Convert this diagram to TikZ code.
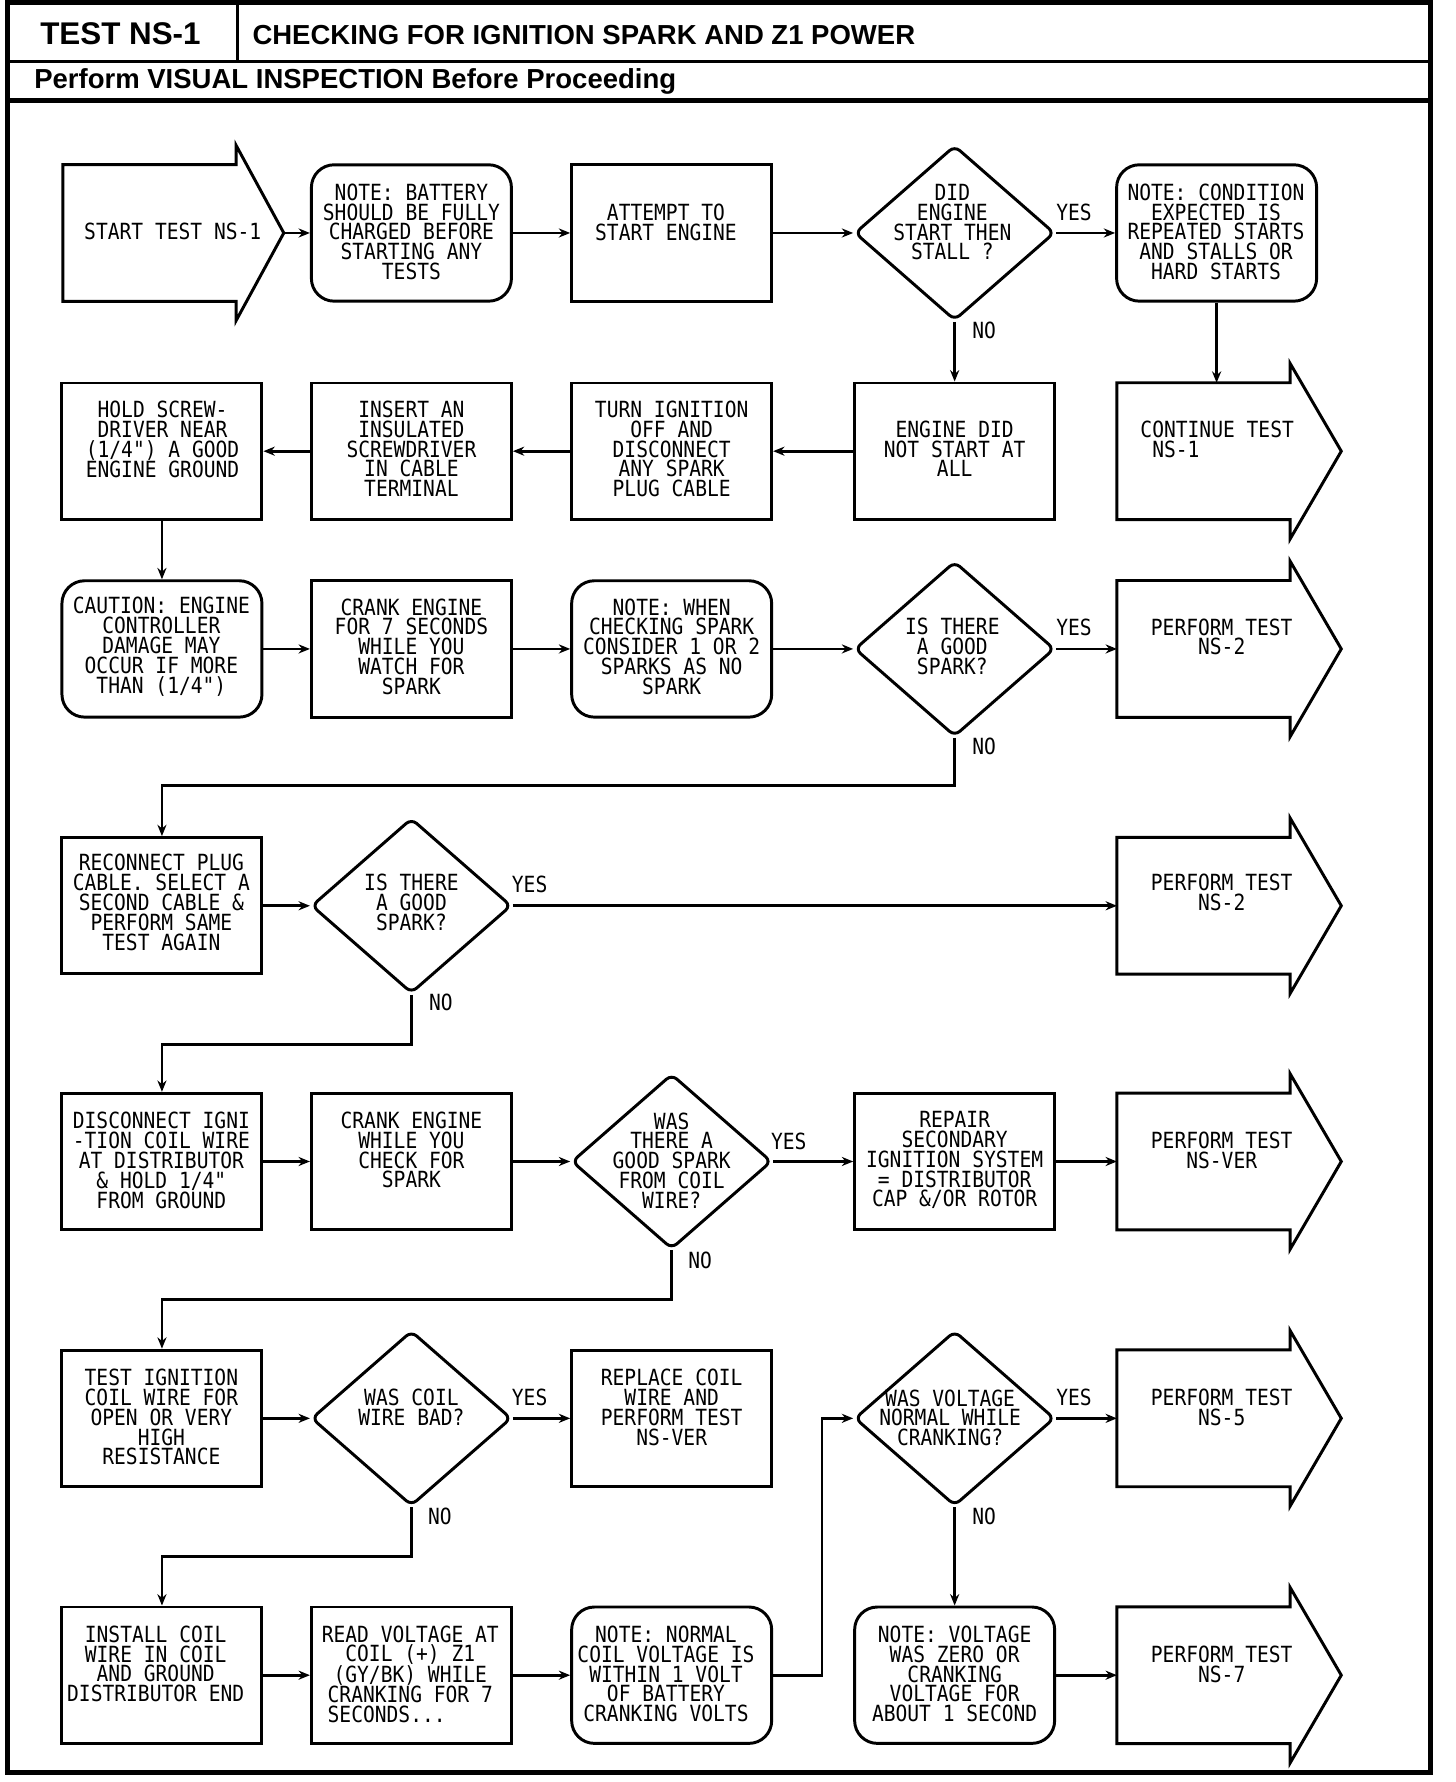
\documentclass[tikz,border=0pt]{standalone}
\usepackage{fontspec}
\usetikzlibrary{shapes.geometric,arrows.meta}
\newfontfamily\boxfont[FakeStretch=0.88]{DejaVu Sans Mono}
\newfontfamily\hdfont{Liberation Sans}
\newcommand\bigarrow[2]{%
  \draw[lw,line join=miter] (#1.north west) -- (#1.north east) -- ([yshift=17pt]#1.north east)
    -- ([xshift=#2pt]#1.east) -- ([yshift=-17pt]#1.south east) -- (#1.south east)
    -- (#1.south west) -- cycle;}
\begin{document}
\begin{tikzpicture}[x=1pt,y=-1pt,
  lw/.style={line width=2.6pt},
  box/.style={draw,line width=2.6pt,minimum width=176pt,minimum height=120pt,inner sep=0pt},
  rbox/.style={box,rounded corners=20pt},
  dia/.style={draw,line width=2.6pt,diamond,minimum width=176pt,minimum height=154pt,inner sep=0pt,rounded corners=6pt},
  abody/.style={minimum width=152pt,minimum height=120pt,inner sep=0pt},
  txt/.style={font=\boxfont\fontsize{19.6}{17.4}\selectfont,align=center,inner sep=0pt},
  lbl/.style={font=\boxfont\fontsize{19.6}{17.4}\selectfont,inner sep=0pt},
  conn/.style={line width=2.4pt,-{Stealth[length=10pt,width=8pt]}}
]
\useasboundingbox (0,0) rectangle (1281,1568);
% frame
\draw[line width=4.4pt] (7,2) rectangle (1259,1560);
\draw[line width=3pt] (7,54) -- (1259,54);
\draw[line width=4.4pt] (7,88) -- (1259,88);
\draw[line width=2pt] (209,2) -- (209,54);
\node[font=\hdfont\bfseries\fontsize{27.6}{30}\selectfont,inner sep=0pt] (hd1) at (106,30) {TEST NS-1};
\node[font=\hdfont\bfseries\fontsize{24.2}{26}\selectfont,inner sep=0pt,anchor=west] (hd2) at (222,31) {CHECKING FOR IGNITION SPARK AND Z1 POWER};
\node[font=\hdfont\bfseries\fontsize{24.2}{26}\selectfont,inner sep=0pt,anchor=west] (hd3) at (30,72) {Perform VISUAL INSPECTION Before Proceeding};

% row 1
\node[abody] (start) at (131.5,205) {};
\bigarrow{start}{42}
\coordinate (starttip) at ([xshift=42pt]start.east);
\node[rbox] (nb) at (362,205) {};
\node[box] (att) at (591,205) {};
\node[dia] (d1) at (840,205) {};
\node[rbox] (nc) at (1070.5,205) {};
% row 2
\node[box] (hold) at (142.5,397) {};
\node[box] (ins) at (362,397) {};
\node[box] (turn) at (591,397) {};
\node[box] (edn) at (840,397) {};
\node[abody] (cont) at (1059,397) {};
\bigarrow{cont}{45}
% row 3
\node[rbox] (caut) at (142.5,571) {};
\node[box] (crank) at (362,571) {};
\node[rbox] (nw) at (591,571) {};
\node[dia] (d2) at (840,571) {};
\node[abody] (ns2a) at (1059,571) {};
\bigarrow{ns2a}{45}
% row 4
\node[box] (rec) at (142.5,797) {};
\node[dia] (d3) at (362,797) {};
\node[abody] (ns2b) at (1059,797) {};
\bigarrow{ns2b}{45}
% row 5
\node[box] (disc) at (142.5,1022) {};
\node[box] (crank2) at (362,1022) {};
\node[dia] (d4) at (591,1022) {};
\node[box] (rep) at (840,1022) {};
\node[abody] (nsver) at (1059,1022) {};
\bigarrow{nsver}{45}
% row 6
\node[box] (tig) at (142.5,1248) {};
\node[dia] (d5) at (362,1248) {};
\node[box] (repl) at (591,1248) {};
\node[dia] (d6) at (840,1248) {};
\node[abody] (ns5) at (1059,1248) {};
\bigarrow{ns5}{45}
% row 7
\node[box] (inst) at (142.5,1474) {};
\node[box] (read) at (362,1474) {};
\node[rbox] (nn) at (591,1474) {};
\node[rbox] (nv) at (840,1474) {};
\node[abody] (ns7) at (1059,1474) {};
\bigarrow{ns7}{45}

% texts
\node[txt] (t1) at (152,204) {START TEST NS-1};
\node[txt] (t2) at (362,204) {NOTE: BATTERY\\SHOULD BE FULLY\\CHARGED BEFORE\\STARTING ANY\\TESTS};
\node[txt] (t3) at (586,195.5) {ATTEMPT TO\\START ENGINE};
\node[txt] (t4) at (838,195.5) {DID\\ENGINE\\START THEN\\STALL ?};
\node[txt] (t5) at (1070,204) {NOTE: CONDITION\\EXPECTED IS\\REPEATED STARTS\\AND STALLS OR\\HARD STARTS};
\node[txt] (t6) at (143,386.5) {HOLD SCREW-\\DRIVER NEAR\\(1/4") A GOOD\\ENGINE GROUND};
\node[txt] (t7) at (362,395) {INSERT AN\\INSULATED\\SCREWDRIVER\\IN CABLE\\TERMINAL};
\node[txt] (t8) at (591,395) {TURN IGNITION\\OFF AND\\DISCONNECT\\ ANY SPARK\\PLUG CABLE};
\node[txt] (t9) at (840,395) {ENGINE DID\\NOT START AT\\ALL};
\node[txt,align=left] (t10) at (1071,386.5) {CONTINUE TEST\\\phantom{C}NS-1};
\node[txt] (t11) at (142,569) {CAUTION: ENGINE\\CONTROLLER\\DAMAGE MAY\\OCCUR IF MORE\\THAN (1/4")};
\node[txt] (t12) at (362,569) {CRANK ENGINE\\FOR 7 SECONDS\\WHILE YOU\\WATCH FOR\\SPARK};
\node[txt] (t13) at (591,569) {NOTE: WHEN\\CHECKING SPARK\\CONSIDER 1 OR 2\\SPARKS AS NO\\SPARK};
\node[txt] (t14) at (838,569) {IS THERE\\A GOOD\\SPARK?};
\node[txt] (t15) at (1075,560.5) {PERFORM TEST\\NS-2};
\node[txt] (t16) at (142,794) {RECONNECT PLUG\\CABLE. SELECT A\\SECOND CABLE \&\\PERFORM SAME\\TEST AGAIN};
\node[txt] (t17) at (362,794) {IS THERE\\A GOOD\\SPARK?};
\node[txt] (t18) at (1075,785.5) {PERFORM TEST\\NS-2};
\node[txt] (t19) at (142,1021) {DISCONNECT IGNI\\-TION COIL WIRE\\AT DISTRIBUTOR\\\& HOLD 1/4"\\FROM GROUND};
\node[txt] (t20) at (362,1012) {CRANK ENGINE\\WHILE YOU\\CHECK FOR\\SPARK};
\node[txt] (t21) at (591,1021) {WAS\\THERE A\\GOOD SPARK\\FROM COIL\\WIRE?};
\node[txt] (t22) at (840,1021) {REPAIR\\SECONDARY\\IGNITION SYSTEM\\= DISTRIBUTOR\\CAP \&/OR ROTOR};
\node[txt] (t23) at (1075,1012.5) {PERFORM TEST\\NS-VER};
\node[txt] (t24) at (142,1247) {TEST IGNITION\\COIL WIRE FOR\\OPEN OR VERY\\HIGH\\RESISTANCE};
\node[txt] (t25) at (362,1238.5) {WAS COIL\\WIRE BAD?};
\node[txt] (t26) at (591,1238.5) {REPLACE COIL\\WIRE AND\\PERFORM TEST\\NS-VER};
\node[txt] (t27) at (836,1247.5) {WAS VOLTAGE\\NORMAL WHILE\\CRANKING?};
\node[txt] (t28) at (1075,1238.5) {PERFORM TEST\\NS-5};
\node[txt] (t29) at (137,1464) {INSTALL COIL\\WIRE IN COIL\\AND GROUND\\DISTRIBUTOR END};
\node[txt] (t30) at (361,1473) {READ VOLTAGE AT\\COIL (+) Z1\\(GY/BK) WHILE\\CRANKING FOR 7\\SECONDS...\phantom{XXXX}};
\node[txt] (t31) at (586,1473) {NOTE: NORMAL\\COIL VOLTAGE IS\\WITHIN 1 VOLT\\OF BATTERY\\CRANKING VOLTS};
\node[txt] (t32) at (840,1473) {NOTE: VOLTAGE\\WAS ZERO OR\\CRANKING\\VOLTAGE FOR\\ABOUT 1 SECOND};
\node[txt] (t33) at (1075,1464.5) {PERFORM TEST\\NS-7};

% connectors
\draw[conn] (starttip) -- (nb.west);
\draw[conn] (nb) -- (att);
\draw[conn] (att) -- (d1);
\draw[conn] (d1) -- (nc);
\draw[conn] (d1.south) -- (edn.north);
\draw[conn] (nc.south) -- (nc.south |- cont.north);
\draw[conn] (edn) -- (turn);
\draw[conn] (turn) -- (ins);
\draw[conn] (ins) -- (hold);
\draw[conn] (hold) -- (caut);
\draw[conn] (caut) -- (crank);
\draw[conn] (crank) -- (nw);
\draw[conn] (nw) -- (d2);
\draw[conn] (d2) -- (ns2a.west);
\draw[conn] (d2.south) -- ++(0,42) -| (rec.north);
\draw[conn] (rec) -- (d3);
\draw[conn] (d3) -- (ns2b.west);
\draw[conn] (d3.south) -- ++(0,44) -| (disc.north);
\draw[conn] (disc) -- (crank2);
\draw[conn] (crank2) -- (d4);
\draw[conn] (d4) -- (rep);
\draw[conn] (rep) -- (nsver.west);
\draw[conn] (d4.south) -- ++(0,43) -| (tig.north);
\draw[conn] (tig) -- (d5);
\draw[conn] (d5) -- (repl);
\draw[conn] (d5.south) -- ++(0,43) -| (inst.north);
\draw[conn] (inst) -- (read);
\draw[conn] (read) -- (nn);
\draw[conn] (nn.east) -- ++(43,0) |- (d6.west);
\draw[conn] (d6) -- (ns5.west);
\draw[conn] (d6.south) -- (nv.north);
\draw[conn] (nv) -- (ns7.west);

% labels
\node[lbl] (y1) at (945,187) {YES};
\node[lbl] (y2) at (945,552) {YES};
\node[lbl] (y3) at (466,778) {YES};
\node[lbl] (y4) at (694,1004) {YES};
\node[lbl] (y5) at (466,1230) {YES};
\node[lbl] (y6) at (945,1230) {YES};
\node[lbl] (n1) at (866,291) {NO};
\node[lbl] (n2) at (866,657) {NO};
\node[lbl] (n3) at (388,882) {NO};
\node[lbl] (n4) at (616,1109) {NO};
\node[lbl] (n5) at (387,1334) {NO};
\node[lbl] (n6) at (866,1334) {NO};
\end{tikzpicture}
\end{document}
